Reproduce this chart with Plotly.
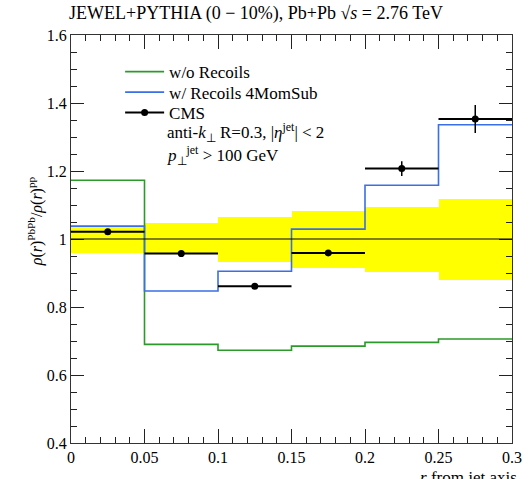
import plotly.graph_objects as go

bin_edges = [0, 0.05, 0.1, 0.15, 0.2, 0.25, 0.3]
bin_centers = [0.025, 0.075, 0.125, 0.175, 0.225, 0.275]
bin_halfwidth = [0.025, 0.025, 0.025, 0.025, 0.025, 0.025]
wo_recoils = [1.173, 0.690, 0.673, 0.685, 0.696, 0.706]
w_recoils = [1.038, 0.847, 0.905, 1.029, 1.158, 1.336]
cms_vals = [1.021, 0.957, 0.861, 0.959, 1.207, 1.353]
cms_err = [0.006, 0.006, 0.006, 0.006, 0.022, 0.041]
sys_lo = [0.960, 0.960, 0.933, 0.916, 0.903, 0.879]
sys_hi = [1.036, 1.046, 1.064, 1.082, 1.093, 1.117]

FONT = "Liberation Serif"
GREEN = "#2b9a2b"
BLUE = "#3a6fe6"

def step_y(vals):
    return list(vals) + [vals[-1]]

fig = go.Figure()

# systematic band
fig.add_trace(go.Bar(
    x=bin_centers,
    y=[h - l for h, l in zip(sys_hi, sys_lo)],
    base=sys_lo,
    width=[2 * w for w in bin_halfwidth],
    marker=dict(color="#ffff00", line=dict(width=0)),
    showlegend=False, hoverinfo="skip",
))

fig.add_trace(go.Scatter(
    x=bin_edges, y=step_y(wo_recoils), mode="lines", line_shape="hv",
    line=dict(color=GREEN, width=1.6), name="w/o Recoils", legend="legend",
))
fig.add_trace(go.Scatter(
    x=bin_edges, y=step_y(w_recoils), mode="lines", line_shape="hv",
    line=dict(color=BLUE, width=1.6), name="w/ Recoils 4MomSub", legend="legend2",
))
fig.add_trace(go.Scatter(
    x=bin_centers, y=cms_vals, mode="markers",
    marker=dict(color="black", size=7),
    error_x=dict(type="data", array=bin_halfwidth, color="black", thickness=2, width=0),
    error_y=dict(type="data", array=cms_err, color="black", thickness=1.5, width=0),
    showlegend=False,
))
# legend entry for CMS
fig.add_trace(go.Scatter(
    x=[None], y=[None], mode="lines+markers",
    line=dict(color="black", width=2), marker=dict(color="black", size=7),
    name="CMS", legend="legend3",
))

L, R, T, B = 70.7, 9.7, 35, 36.3
W, H = 532, 479
pw = W - L - R
ph = H - T - B

def px(x):
    return (x - L) / pw

def py(y):
    return 1 - (y - T) / ph

fig.add_shape(type="line", xref="paper", yref="y", x0=0, x1=1, y0=1, y1=1,
              line=dict(color="black", width=1))

axis_common = dict(
    showgrid=False, zeroline=False, showline=True, linecolor="#333", linewidth=1,
    mirror="allticks", ticks="inside", tickcolor="#222",
    tickfont=dict(family=FONT, size=16, color="black"),
)

fig.update_xaxes(
    range=[0, 0.3], tickvals=[0, 0.05, 0.1, 0.15, 0.2, 0.25, 0.3],
    ticktext=["0", "0.05", "0.1", "0.15", "0.2", "0.25", "0.3"],
    ticklen=14,
    minor=dict(dtick=0.01, tick0=0, ticklen=6, ticks="inside", tickcolor="#222"),
    **axis_common,
)
fig.update_yaxes(
    range=[0.4, 1.6], tickvals=[0.4, 0.6, 0.8, 1.0, 1.2, 1.4, 1.6],
    ticktext=["0.4", "0.6", "0.8", "1", "1.2", "1.4", "1.6"],
    ticklen=13,
    minor=dict(dtick=0.05, tick0=0, ticklen=6, ticks="inside", tickcolor="#222"),
    **axis_common,
)

fig.add_annotation(
    xref="paper", yref="paper", x=px(67), y=py(14), xanchor="left", yanchor="middle",
    text="JEWEL+PYTHIA (0 − 10%), Pb+Pb √<i>s</i> = 2.76 TeV",
    showarrow=False, font=dict(family=FONT, size=18, color="black"),
)
fig.add_annotation(
    xref="paper", yref="paper", x=px(34), y=py(221), xanchor="center", yanchor="middle",
    text="<i>ρ</i>(<i>r</i>)<sup>PbPb</sup>/<i>ρ</i>(<i>r</i>)<sup>pp</sup>", textangle=-90,
    showarrow=False, font=dict(family=FONT, size=16, color="black"),
)
fig.add_annotation(
    xref="paper", yref="paper", x=px(529), y=py(466), xanchor="right", yanchor="top",
    text="<i>r</i> from jet axis",
    showarrow=False, font=dict(family=FONT, size=17, color="black"),
)
fig.add_annotation(
    xref="paper", yref="paper", x=px(167), y=py(132), xanchor="left", yanchor="middle",
    text="anti-<i>k</i><sub>⊥</sub> R=0.3, |<i>η</i><sup>jet</sup>| &lt; 2",
    showarrow=False, font=dict(family=FONT, size=17, color="black"),
)
fig.add_annotation(
    xref="paper", yref="paper", x=px(167), y=py(155), xanchor="left", yanchor="middle",
    text="<i>p</i><sub>⊥</sub><sup>jet</sup> &gt; 100 GeV",
    showarrow=False, font=dict(family=FONT, size=17, color="black"),
)

def leg(row_y):
    return dict(
        x=px(121), y=py(row_y), xanchor="left", yanchor="middle",
        bgcolor="rgba(0,0,0,0)", borderwidth=0,
        font=dict(family=FONT, size=17, color="black"),
        tracegroupgap=0, itemwidth=39,
    )

fig.update_layout(
    width=W, height=H,
    margin=dict(l=L, r=R, t=T, b=B, pad=0),
    plot_bgcolor="white", paper_bgcolor="white",
    barmode="overlay", bargap=0,
    font=dict(family=FONT, size=16, color="black"),
    legend=leg(72),
    legend2=leg(92.5),
    legend3=leg(113),
)

fig.write_html("out.html", post_script="document.body.style.margin='0';",
               config={"displayModeBar": False})
